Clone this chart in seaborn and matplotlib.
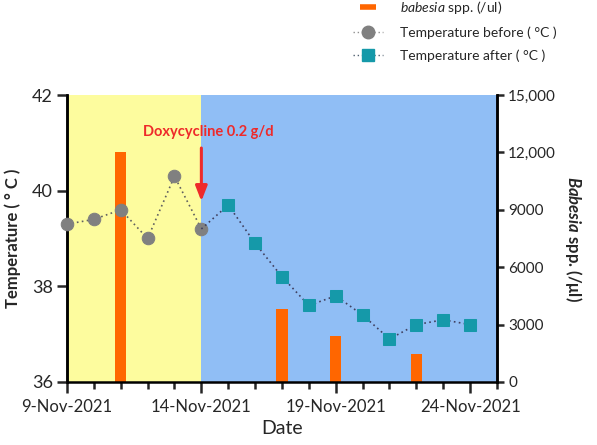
import matplotlib
matplotlib.use("Agg")
import matplotlib.pyplot as plt
import seaborn as sns
import pandas as pd
import numpy as np
from matplotlib.lines import Line2D
from matplotlib.ticker import FixedLocator, FuncFormatter

# day of November 2021
before_days = [9, 10, 11, 12, 13, 14]
before_temp = [39.3, 39.4, 39.6, 39.0, 40.3, 39.2]
after_days = [15, 16, 17, 18, 19, 20, 21, 22, 23, 24]
after_temp = [39.7, 38.9, 38.2, 37.6, 37.8, 37.4, 36.9, 37.2, 37.3, 37.2]
bab_days = [11, 17, 19, 22]
bab_count = [12000, 3800, 2400, 1450]
date_ticks = [9, 14, 19, 24]
date_labels = ["9-Nov-2021", "14-Nov-2021", "19-Nov-2021", "24-Nov-2021"]

sns.set_style("ticks")
plt.rcParams['font.family'] = ['Lato', 'DejaVu Sans']
plt.rcParams['mathtext.fontset'] = 'custom'
plt.rcParams['mathtext.it'] = 'Lato:italic'
plt.rcParams['mathtext.bf'] = 'Lato:bold:italic'
plt.rcParams['mathtext.rm'] = 'Lato'

fig = plt.figure(figsize=(5.97, 4.45), dpi=100)
ax = fig.add_axes([0.1122, 0.1416, 0.7203, 0.6449])   # babesia (drawn below)
ax2 = ax.twinx()                                      # temperature (drawn on top)

orange = "#FF6600"
gray = "#808080"
teal = "#1599A9"

# background phases
ax.axvspan(9, 14, color="#FDFC9E", lw=0, zorder=0)
ax.axvspan(14, 25, color="#90BEF5", lw=0, zorder=0)

df_bab = pd.DataFrame({"day": bab_days, "count": bab_count})
ax.bar(df_bab["day"], df_bab["count"], width=0.42, color=orange, edgecolor=orange, lw=0, zorder=2)
ax.set_ylim(0, 15000)
ax.set_xlim(9, 25)

df_b = pd.DataFrame({"day": before_days, "temp": before_temp})
df_a = pd.DataFrame({"day": after_days, "temp": after_temp})
# connect the after series to the last before point with a dotted line
df_link = pd.DataFrame({"day": [before_days[-1], after_days[0]], "temp": [before_temp[-1], after_temp[0]]})
sns.lineplot(data=df_b, x="day", y="temp", ax=ax2, color="#606060", lw=1.2, ls=(0, (1, 2)),
             marker="o", markersize=9, markerfacecolor=gray, markeredgecolor=gray, zorder=3, clip_on=False)
sns.lineplot(data=df_link, x="day", y="temp", ax=ax2, color="#404060", lw=1.2, ls=(0, (1, 2)), zorder=3)
sns.lineplot(data=df_a, x="day", y="temp", ax=ax2, color="#404060", lw=1.2, ls=(0, (1, 2)),
             marker="s", markersize=9, markerfacecolor=teal, markeredgecolor=teal, zorder=3, clip_on=False)
ax2.set_ylim(36, 42)
ax2.set_xlim(9, 25)

# axis sides: temperature on left, babesia on right
ax.yaxis.tick_right()
ax.yaxis.set_label_position("right")
ax2.yaxis.tick_left()
ax2.yaxis.set_label_position("left")

ax2.set_yticks([36, 38, 40, 42])
ax.set_yticks([0, 3000, 6000, 9000, 12000, 15000])
ax.yaxis.set_major_formatter(FuncFormatter(lambda v, p: f"{int(v):,}" if v >= 10000 else f"{int(v)}"))

ax.xaxis.set_major_locator(FixedLocator(date_ticks))
ax.xaxis.set_major_formatter(FuncFormatter(lambda v, p: date_labels[date_ticks.index(int(round(v)))]))
ax.xaxis.set_minor_locator(FixedLocator(list(range(9, 26))))
ax.xaxis.set_ticks_position("bottom")
ax.set_xlabel("Date", fontsize=14, labelpad=4)

for a in (ax, ax2):
    a.spines["top"].set_visible(False)
    for s in ["left", "right", "bottom"]:
        a.spines[s].set_linewidth(1.8)
        a.spines[s].set_color("black")
ax2.spines["bottom"].set_visible(False)
ax2.patch.set_visible(False)

ax.tick_params(axis="x", which="major", length=8, width=1.8, labelsize=12, pad=4, bottom=True, labelbottom=True)
ax.tick_params(axis="x", which="minor", length=5, width=1.8, bottom=True)
ax.tick_params(axis="y", which="major", length=5, width=1.8, labelsize=11, pad=3)
ax2.tick_params(axis="y", which="major", length=7, width=1.8, labelsize=13, pad=3)
ax2.set_xlabel("")

ax2.set_ylabel("Temperature ( ° C )", fontsize=12, fontweight="bold", labelpad=8)
ax.set_ylabel(r"$\bf{Babesia}$ spp. (/μl)", fontsize=12, fontweight="bold", rotation=270, labelpad=20)

# treatment annotation
ax2.annotate("", xy=(14, 39.72), xytext=(14, 40.95),
             arrowprops=dict(arrowstyle="-|>,head_width=0.35,head_length=0.9", color="#EE2A2A", lw=2.2))
ax2.text(14.25, 41.22, "Doxycycline 0.2 g/d", color="#EE2A2A", fontsize=10.5, fontweight="bold",
         ha="center", va="center")

handles = [
    Line2D([0], [0], color=orange, lw=0, marker="_", markersize=12, markeredgewidth=4),
    Line2D([0], [0], color="#909090", lw=1, ls=(0, (1, 2)), marker="o", markersize=9,
           markerfacecolor=gray, markeredgecolor=gray),
    Line2D([0], [0], color="#506070", lw=1, ls=(0, (1, 2)), marker="s", markersize=9,
           markerfacecolor=teal, markeredgecolor=teal),
]
labels = [r"$\it{babesia}$ spp. (/ul)", "Temperature before ( °C )", "Temperature after ( °C )"]
fig.legend(handles, labels, loc="upper left", bbox_to_anchor=(0.57, 1.03), frameon=False,
           fontsize=10, handlelength=2.2, handletextpad=1.2, labelspacing=0.75)

fig.savefig("out.png", dpi=100)
